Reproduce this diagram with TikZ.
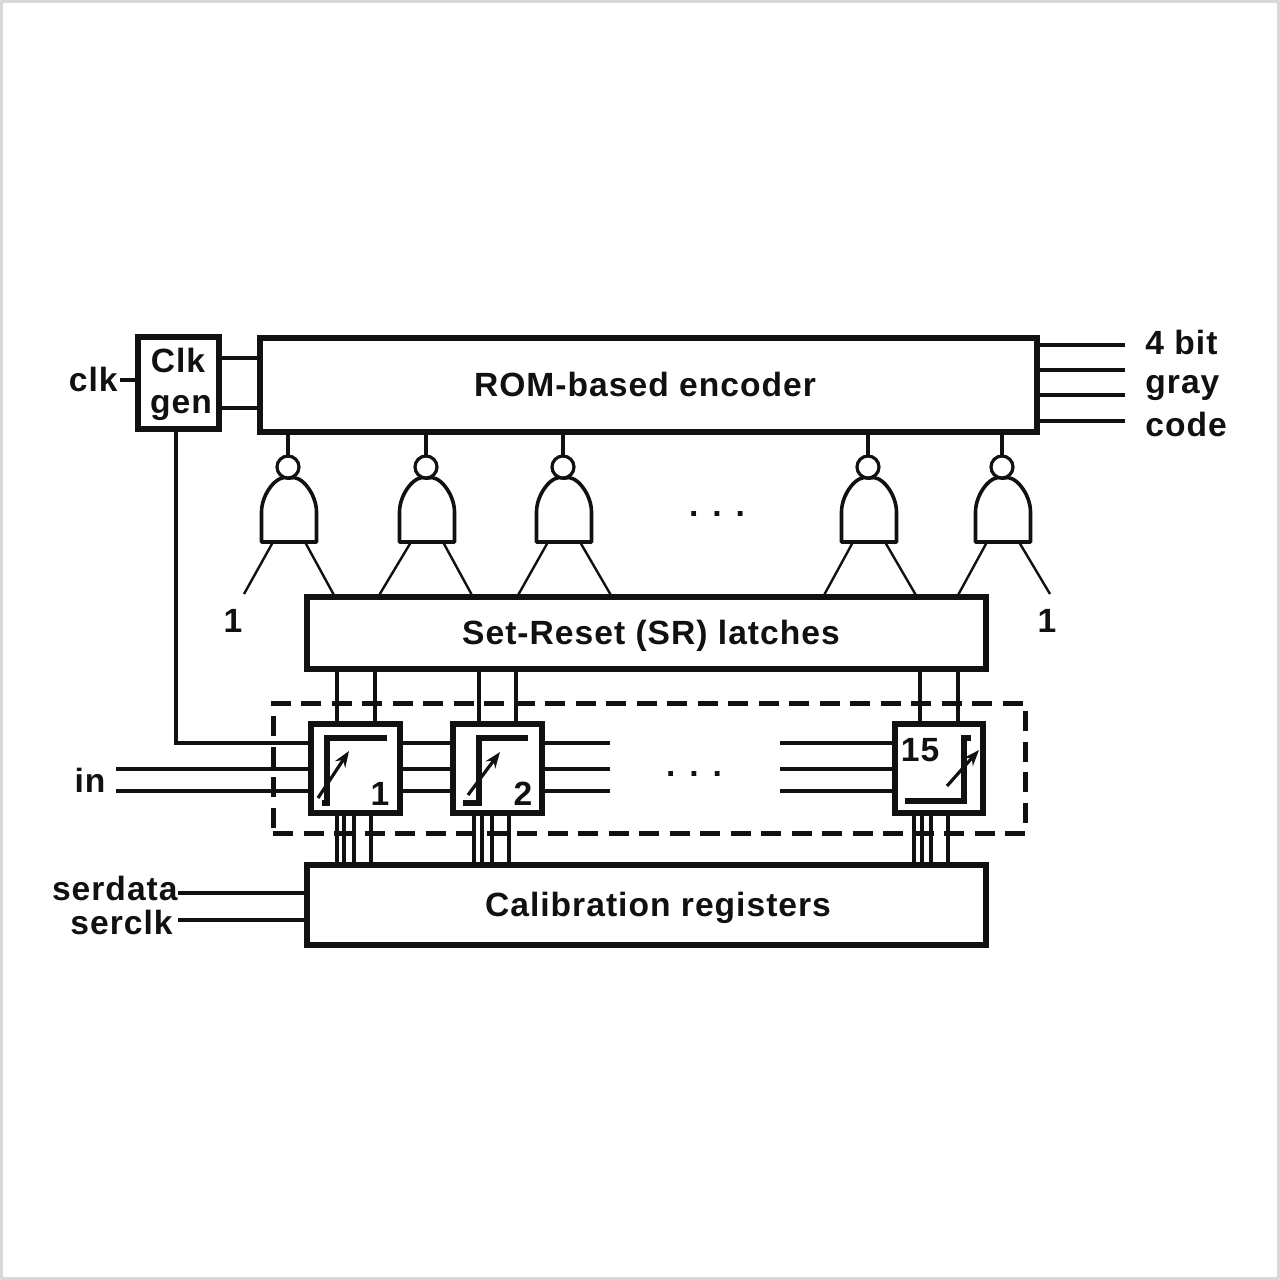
\documentclass[tikz,border=0pt]{standalone}
\usepackage{fontspec}
\setmainfont[LetterSpace=3]{Liberation Sans}
\usetikzlibrary{calc,arrows.meta}
\def\u{0.5pt}
\definecolor{ink}{HTML}{111111}
\tikzset{
  x=0.5pt,y=-0.5pt,
  heavybox/.style={draw=ink,line width=3pt,fill=white,outer sep=0pt,inner sep=0pt},
  wire/.style={draw=ink,line width=1.7pt},
  thinwire/.style={draw=ink,line width=1.2pt},
  lbl/.style={text=ink,font=\fontsize{16.8}{18}\selectfont\bfseries,inner sep=0pt},
  bubble/.style={circle,draw=ink,line width=1.6pt,fill=white,minimum size=22*\u,inner sep=0pt,outer sep=0pt},
  gatebox/.style={rectangle,minimum width=55*\u,minimum height=64*\u,inner sep=0pt,outer sep=0pt},
  gateline/.style={draw=ink,line width=1.8pt,line join=round},
  steptrace/.style={draw=ink,line width=2.6pt,line cap=butt},
  sloped arrow/.style={draw=ink,line width=1.6pt,-{Stealth[length=8pt,width=6pt]}},
  dashframe/.style={draw=ink,line width=2.5pt,dash pattern=on 10pt off 5.25pt},
}
\newcommand{\gatesym}[2]{%
  \node[gatebox] (g#1) at (#2,510) {};
  \draw[gateline,fill=white] (g#1.south west) -- ++(0,-30)
     .. controls +(0,-18) and +(-11,-4) .. ($(g#1.north)+(-1,0)$)
     -- ($(g#1.north)+(1,0)$)
     .. controls +(11,-4) and +(0,-18) .. ($(g#1.south east)+(0,-30)$)
     -- (g#1.south east) -- cycle;
  \node[bubble] (b#1) at (#2-1,467) {};
  \path (g#1.south) ++(-16,0) coordinate (g#1a) (g#1.south) ++(16,0) coordinate (g#1b);
}
\begin{document}
\begin{tikzpicture}
\useasboundingbox (0,0) rectangle (1280,1280);
\fill[white] (0,0) rectangle (1280,1280);
\draw[draw=black!15,line width=1.5pt] (1.5,1.5) rectangle (1278.5,1278.5);

% main blocks
\node[heavybox,minimum width=81*\u,minimum height=92*\u] (gen) at (178,383) {};
\node[heavybox,minimum width=777*\u,minimum height=94*\u] (rom) at (648.5,385) {};
\node[heavybox,minimum width=679*\u,minimum height=72*\u] (latch) at (646.5,633) {};
\node[heavybox,minimum width=679*\u,minimum height=80*\u] (calib) at (646.5,905) {};

% text in blocks
\node[lbl] at (178,360) {Clk};
\node[lbl] at (181,408) {gen};
\node[lbl] at (645,384) {ROM-based encoder};
\node[lbl] at (651,636) {Set-Reset (SR) latches};
\node[lbl] at (658,908) {Calibration registers};

% gates
\gatesym{1}{289}
\gatesym{2}{427}
\gatesym{3}{564}
\gatesym{4}{869}
\gatesym{5}{1003}
\foreach \n in {1,2,3,4,5}
  \draw[wire] (b\n.north |- rom.south) -- (b\n.north);
\coordinate (one1) at (244,594);
\coordinate (one2) at (1050,594);
\draw[thinwire] (g1a) -- (one1);
\draw[thinwire] (g1b) -- ([xshift=28*\u]latch.north west);
\draw[thinwire] (g2a) -- ([xshift=71*\u]latch.north west);
\draw[thinwire] (g2b) -- ([xshift=166*\u]latch.north west);
\draw[thinwire] (g3a) -- ([xshift=210*\u]latch.north west);
\draw[thinwire] (g3b) -- ([xshift=305*\u]latch.north west);
\draw[thinwire] (g4a) -- ([xshift=516*\u]latch.north west);
\draw[thinwire] (g4b) -- ([xshift=610*\u]latch.north west);
\draw[thinwire] (g5a) -- ([xshift=650*\u]latch.north west);
\draw[thinwire] (g5b) -- (one2);
\node[lbl] at (233,621) {1};
\node[lbl] at (1047,621) {1};
\node[lbl] at (717,514) {.\hspace{7pt}.\hspace{7pt}.};
\node[lbl] at (694,774) {.\hspace{7pt}.\hspace{7pt}.};

% dashed frame
\node[dashframe,rectangle,minimum width=752*\u,minimum height=130*\u,inner sep=0pt,outer sep=0pt] (frame) at (649,768) {};

% comparator cells
\node[heavybox,minimum width=89*\u,minimum height=89*\u] (c1) at (355.5,768.5) {};
\node[heavybox,minimum width=89*\u,minimum height=89*\u] (c2) at (497.5,768.5) {};
\node[heavybox,minimum width=88*\u,minimum height=89*\u] (c15) at (939,768.5) {};

% step traces
\draw[steptrace] (327,806) -- (327,738) -- (387,738);
\draw[steptrace] (322,803) -- (329,803);
\draw[steptrace] (463,803) -- (479,803) -- (479,738) -- (528,738);
\draw[steptrace] (905,801) -- (964,801) -- (964,738) -- (971,738);
\draw[sloped arrow] (318,798) -- (349,751);
\draw[sloped arrow] (468,795) -- (500,752);
\draw[sloped arrow] (947,786) -- (979,750);
\node[lbl] at (380,794) {1};
\node[lbl] at (523,794) {2};
\node[lbl] at (920,750) {15};

% latch to cells
\foreach \a/\b/\c in {30/26/c1,68/64/c1,172/26/c2,209/63/c2,613/25/c15,651/63/c15}
  \draw[wire] ([xshift=\a*\u]latch.south west) -- ([xshift=\b*\u]\c.north west);
% cells to calibration
\foreach \a/\b/\c in {30/26/c1,37/33/c1,47/43/c1,64/60/c1,167/21/c2,175/29/c2,185/39/c2,202/56/c2,607/19/c15,615/27/c15,624/36/c15,641/53/c15}
  \draw[wire] ([xshift=\a*\u]calib.north west) -- ([xshift=\b*\u]\c.south west);

% horizontal wires between cells
\foreach \y in {19,45,67}{
  \draw[wire] ([yshift=-\y*\u]c1.north east) -- ([yshift=-\y*\u]c2.north west);
}
\coordinate (out2a) at (610,743); \coordinate (out2b) at (610,769); \coordinate (out2c) at (610,791);
\coordinate (in15a) at (780,743); \coordinate (in15b) at (780,769); \coordinate (in15c) at (780,791);
\draw[wire] (out2a -| c2.east) -- (out2a);
\draw[wire] (out2b -| c2.east) -- (out2b);
\draw[wire] (out2c -| c2.east) -- (out2c);
\draw[wire] (in15a) -- (in15a -| c15.west);
\draw[wire] (in15b) -- (in15b -| c15.west);
\draw[wire] (in15c) -- (in15c -| c15.west);

% inputs
\coordinate (ina) at (116,769); \coordinate (inb) at (116,791);
\draw[wire] (ina) -- (ina -| c1.west);
\draw[wire] (inb) -- (inb -| c1.west);
\coordinate (clkbend) at (176,743);
\draw[wire] (gen.south -| clkbend) -- (clkbend) -- (clkbend -| c1.west);
\node[lbl] at (90,780) {in};

% clock
\node[lbl,anchor=east] (clk) at (118,379) {clk};
\draw[wire] (clk.east |- gen.west) ++(2,-3) -- ($(gen.west)+(0,-3)$);
\draw[wire] ([yshift=-21*\u]gen.north east) -- ([yshift=-21*\u]gen.north east -| rom.west);
\draw[wire] ([yshift=-71*\u]gen.north east) -- ([yshift=-71*\u]gen.north east -| rom.west);

% outputs
\foreach \y/\n in {345/a,370/b,395/c,421/d}{
  \coordinate (o\n) at (1125,\y);
  \draw[wire] (o\n -| rom.east) -- (o\n);
}
\node[lbl,anchor=west] at (1145,342) {4 bit};
\node[lbl,anchor=west] at (1145,388) {gray};
\node[lbl,anchor=west] at (1145,424) {code};

% serial
\node[lbl,anchor=east] (sd) at (178,888) {serdata};
\node[lbl,anchor=east] (sc) at (173,922) {serclk};
\coordinate (sda) at (178,893); \coordinate (sca) at (178,920);
\draw[wire] (sda) -- (sda -| calib.west);
\draw[wire] (sca) -- (sca -| calib.west);
\end{tikzpicture}
\end{document}
